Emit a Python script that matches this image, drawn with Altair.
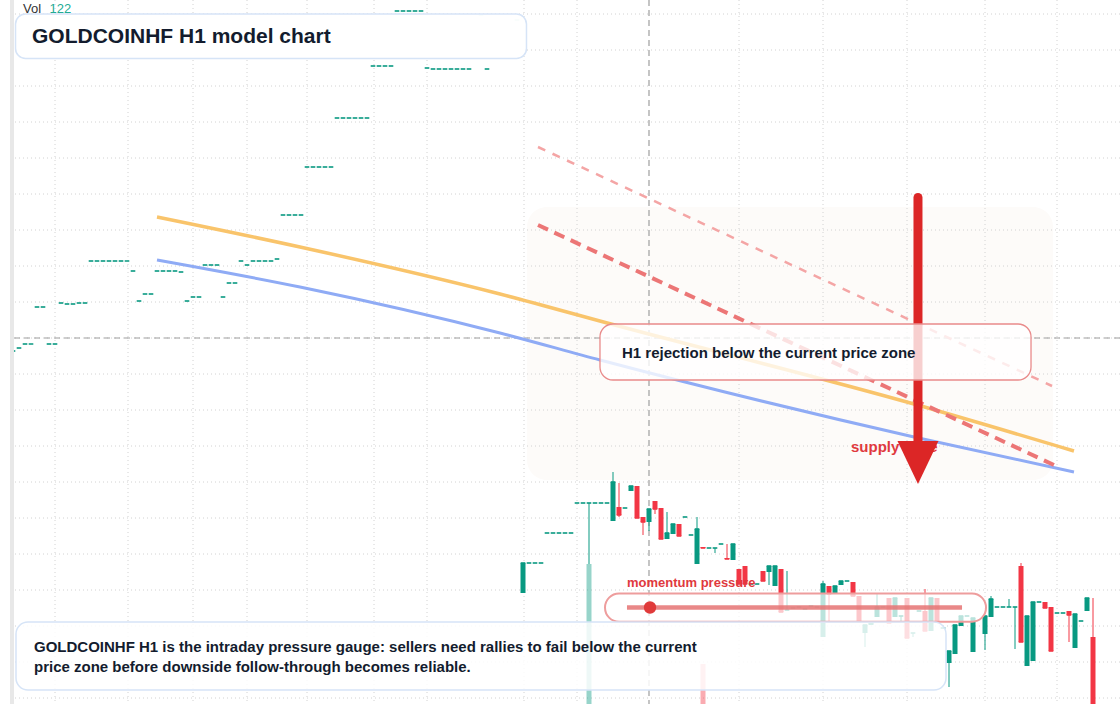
import altair as alt
import pandas as pd

# ---------------- data ----------------
# left part: flat (doji) hourly candles, one price each
flat_idx = [2, 3, 4, 5, 6, 7, 8, 9, 10, 11,
            12, 13, 14, 15, 16, 17, 18, 19, 20, 21,
            22, 23, 24, 25, 26, 27, 28, 29, 30, 31,
            32, 33, 34, 35, 36, 37, 38, 39, 40, 41,
            42, 43, 44, 45, 46, 47, 48, 49, 50, 51,
            52, 53, 54, 55, 56, 57, 58, 59, 60, 61,
            62, 63, 64, 65, 66, 67, 68, 69, 70, 71,
            72, 73, 74, 75, 76, 77, 78, 80, 81, 86]
flat_price = [2396.75, 2397.5, 2398.5, 2398.5, 2407.75, 2407.75, 2398.5, 2398.5, 2408.75, 2408.5,
              2408.5, 2408.75, 2408.75, 2419.25, 2419.25, 2419.25, 2419.25, 2419.25, 2419.25, 2419.25,
              2416.75, 2409.25, 2411, 2411, 2416.75, 2416.75, 2416.75, 2416.75, 2416.5, 2409.25,
              2410.25, 2410.25, 2418.25, 2418.25, 2418.25, 2410.25, 2413.75, 2413.75, 2419.25, 2418.25,
              2419.25, 2419.25, 2419.25, 2419.25, 2419.75, 2430.75, 2430.75, 2430.75, 2430.75, 2442.75,
              2442.75, 2442.75, 2442.75, 2442.75, 2455, 2455, 2455, 2455, 2455, 2455,
              2468, 2468, 2468, 2468, 2481.75, 2481.75, 2481.75, 2481.75, 2481.75, 2467.5,
              2467.25, 2467.25, 2467.25, 2467.25, 2467.25, 2467.25, 2467.25, 2480.75, 2467.25, 2479.5]

# right part: OHLC candles
r_idx = list(range(87, 163)) + list(range(164, 183))
r_open = [2336.25, 2343.75, 2343.75, 2343.75, 2351.25, 2351.25, 2351.25, 2351.25, 2351.25, 2358.75,
          2358.75, 2358.75, 2358.75, 2358.75, 2358.75, 2354.25, 2357.75, 2357.5, 2361.75, 2363,
          2355.25, 2354, 2359.25, 2357.5, 2349.75, 2351, 2353.5, 2355.25, 2350.75, 2343.5,
          2347.75, 2347.5, 2347.5, 2348.5, 2345, 2344.5, 2342.25, 2343, 2338.5, 2338.5,
          2341.75, 2341.5, 2338, 2342.25, 2332, 2332.5, 2332.75, 2332.25, 2333, 2332.75,
          2325.25, 2338, 2336, 2338.25, 2339.25, 2339, 2335.5, 2326.25, 2328.25, 2330.25,
          2332.75, 2335, 2330.25, 2330.5, 2335, 2326.25, 2331.75, 2331.75, 2326.75, 2335,
          2327.5, 2318.75, 2321, 2328, 2330.5, 2321.5,
          2326, 2330.25, 2332.75, 2332.75, 2332.75, 2332.75, 2343, 2318, 2319.25, 2334,
          2334, 2332.75, 2331.25, 2331.25, 2331.75, 2322.5, 2329.25, 2331.75, 2325.25]
r_high = [2343.75, 2343.75, 2343.75, 2343.75, 2351.25, 2351.25, 2351.25, 2351.25, 2351.25, 2358.75,
          2358.75, 2358.75, 2358.75, 2358.75, 2358.75, 2366.5, 2363.75, 2357.5, 2363, 2363,
          2355.25, 2357.25, 2359.25, 2357.5, 2356.5, 2353.5, 2353.5, 2355.25, 2350.75, 2355.25,
          2347.75, 2347.5, 2347.5, 2348.5, 2348.5, 2348.5, 2342.25, 2343, 2338.5, 2338.5,
          2341.75, 2343, 2343, 2342.25, 2341.75, 2332.5, 2332.75, 2332.25, 2333, 2332.75,
          2339.25, 2338, 2338, 2339.25, 2339.25, 2339, 2335.5, 2328.25, 2328.75, 2336.25,
          2332.75, 2335, 2335, 2330.5, 2335, 2326.25, 2331.75, 2337.25, 2335, 2335,
          2327.5, 2321.75, 2328.25, 2330.5, 2330.5, 2330,
          2330.5, 2335.5, 2332.75, 2332.75, 2334.75, 2332.75, 2343.75, 2330.5, 2334, 2334,
          2334, 2332.75, 2331.25, 2331.25, 2331.75, 2331, 2329.25, 2335, 2335]
r_low = [2336.25, 2343.75, 2343.75, 2343.75, 2351.25, 2351.25, 2351.25, 2351.25, 2351.25, 2358.75,
         2358.75, 2343.5, 2358.75, 2358.75, 2358.75, 2354.25, 2355.25, 2357.5, 2361.75, 2355,
         2350.75, 2351.75, 2356, 2349.75, 2349.75, 2351, 2350.5, 2355.25, 2350.75, 2343.5,
         2347.5, 2347.5, 2346.25, 2348.5, 2344.75, 2344.5, 2338.5, 2338.5, 2338.5, 2338.5,
         2339.25, 2338.25, 2338, 2331.5, 2332, 2332.5, 2332.75, 2332.25, 2333, 2332.75,
         2325.25, 2328.75, 2336, 2338.25, 2339.25, 2335.5, 2329, 2322.75, 2328.25, 2330.25,
         2332.75, 2328.75, 2330.25, 2329, 2325, 2325.25, 2331.75, 2326.75, 2326.75, 2329,
         2327.5, 2312.75, 2321, 2328, 2330.5, 2321.5,
         2322, 2330.25, 2332.75, 2332.75, 2332.75, 2322.25, 2324, 2318, 2319.25, 2334,
         2332.5, 2321.75, 2331.25, 2331.25, 2324, 2322.5, 2329.25, 2331.75, 2304.5]
r_close = [2343.75, 2343.75, 2343.75, 2343.75, 2351.25, 2351.25, 2351.25, 2351.25, 2351.25, 2358.75,
           2358.75, 2358.75, 2358.75, 2358.75, 2358.75, 2364, 2355.75, 2357.5, 2363, 2355,
           2354, 2357.25, 2357.25, 2349.75, 2351.25, 2353.5, 2350.5, 2355.25, 2350.75, 2352.25,
           2347.5, 2347.5, 2347.5, 2348.5, 2344.75, 2348.5, 2338.5, 2338.5, 2338.5, 2338.5,
           2339.25, 2343, 2343, 2331.5, 2332, 2332.5, 2332.75, 2332.25, 2333, 2332.75,
           2338.5, 2336, 2338, 2339.25, 2339.25, 2335.5, 2329, 2328.25, 2328.75, 2332.75,
           2332.75, 2328.75, 2335, 2330.5, 2325, 2326.25, 2331.75, 2326.75, 2335, 2329,
           2327.5, 2321.75, 2328.25, 2330.5, 2330.5, 2330,
           2330.5, 2334.75, 2332.75, 2332.75, 2332.75, 2332.75, 2324, 2330.5, 2334, 2334,
           2332.5, 2321.75, 2331.25, 2331.25, 2330.75, 2331, 2329.25, 2335, 2304.5]

vol_idx = [98, 117]
vol_val = [140, 40]
vol_dir = ["up", "down"]

grid_x = [9, 21.17, 32, 41, 51, 62.17, 71, 87.17, 96, 123, 137, 151, 164, 176]
grid_y = [2481, 2472, 2463, 2454, 2445, 2436, 2427, 2418, 2409, 2400,
          2391, 2382, 2373, 2364, 2355, 2346, 2337, 2328, 2319, 2310]
cross_x = [108]
cross_y = [2400]

orange_i = [26, 49.83, 83.17, 101.67, 152.17, 178.83]
orange_p = [2430.25, 2422.75, 2411, 2403.5, 2383.5, 2371.75]
blue_i = [26, 49.83, 83.17, 99.83, 152.17, 178.83]
blue_p = [2419.5, 2412.75, 2401.25, 2394.5, 2375.25, 2366.5]
resist_i = [89.5, 175.5]
resist_p = [2428.25, 2368.25]
upper_i = [89.5, 175.17]
upper_p = [2447.75, 2388]

# annotation geometry (index, price)
zone = {"x0": [87.67], "x1": [175.33], "y0": [2432.75], "y1": [2364.5]}
arrow_shaft = {"i": [152.83], "top": [2435.125], "bot": [2372]}
arrow_head = {"i": [152.83], "p": [2368.9]}
title_box = {"x0": [2.42], "x1": [87.58], "y0": [2481], "y1": [2469.9]}
note_box = {"x0": [2.5], "x1": [157.5], "y0": [2329], "y1": [2312]}
mom_box = {"x0": [100.67], "x1": [164.17], "y0": [2336.125], "y1": [2329.075]}
rej_box = {"x0": [99.83], "x1": [171.67], "y0": [2403.5], "y1": [2389.5]}
mom_line = {"i": [104.33, 160.17], "p": [2332.625, 2332.625]}
mom_dot = {"i": [108.17], "p": [2332.625]}

title_txt = {"i": [5.17], "p": [2473.75], "t": ["GOLDCOINHF H1 model chart"]}
note_txt = {"i": [5.5, 5.5], "p": [2321.5, 2316.5],
            "t": ["GOLDCOINHF H1 is the intraday pressure gauge: sellers need rallies to fail below the current",
                  "price zone before downside follow-through becomes reliable."]}
rej_txt = {"i": [103.5], "p": [2395], "t": ["H1 rejection below the current price zone"]}
mom_txt = {"i": [104.33], "p": [2337.75], "t": ["momentum pressure"]}
sup_txt = {"i": [141.67], "p": [2371.5], "t": ["supply zone"]}
vol_lbl = {"i": [3.67], "p": [2481.25], "t": ["Vol"]}
vol_num = {"i": [8.08], "p": [2481.25], "t": ["122"]}
left_band = {"i": [1.83]}
left_white = {"i": [0.67]}

# ---------------- chart ----------------
FONT = "Liberation Sans"
DARK = "#131c2e"
GREEN = "#089981"
RED = "#f23645"

xs = alt.Scale(domain=[-0.1667, 186.5], nice=False, zero=False, padding=0)
ys = alt.Scale(domain=[2308.5, 2484.5], nice=False, zero=False, padding=0)


def X(f):
    return alt.X(f, type="quantitative", scale=xs, axis=None)


def Y(f):
    return alt.Y(f, type="quantitative", scale=ys, axis=None)


left = pd.DataFrame({"i": flat_idx, "o": flat_price, "h": flat_price, "l": flat_price, "c": flat_price})
right = pd.DataFrame({"i": r_idx, "o": r_open, "h": r_high, "l": r_low, "c": r_close})
candles = pd.concat([left, right], ignore_index=True)
candles["dir"] = ["up" if c >= o else "down" for o, c in zip(candles["o"], candles["c"])]
vol = pd.DataFrame({"i": vol_idx, "v": vol_val, "dir": vol_dir})

color = alt.Color("dir:N", scale=alt.Scale(domain=["up", "down"], range=[GREEN, RED]), legend=None)


def D(d):
    return pd.DataFrame(d)


def box(d, **kw):
    return alt.Chart(D(d)).mark_rect(**kw).encode(x=X("x0"), x2="x1", y=Y("y0"), y2="y1")


def text(d, **kw):
    return alt.Chart(D(d)).mark_text(align="left", baseline="alphabetic", font=FONT, **kw).encode(
        x=X("i"), y=Y("p"), text="t:N")


layers = [
    box(zone, fill="#fdfbf9", cornerRadius=20),
    alt.Chart(D({"g": grid_x})).mark_rule(color="#d2d2d2", strokeWidth=1, strokeDash=[1, 3]).encode(x=X("g")),
    alt.Chart(D({"g": grid_y})).mark_rule(color="#d2d2d2", strokeWidth=1, strokeDash=[1, 3]).encode(y=Y("g")),
    alt.Chart(D({"g": cross_x})).mark_rule(color="#9e9e9e", strokeWidth=1.2, strokeDash=[6, 4]).encode(x=X("g")),
    alt.Chart(D({"g": cross_y})).mark_rule(color="#9e9e9e", strokeWidth=1.2, strokeDash=[6, 4]).encode(y=Y("g")),
    alt.Chart(vol).mark_bar(size=5, opacity=0.42).encode(
        x=X("i"), y=alt.Y("v:Q", scale=alt.Scale(domain=[0, 704], nice=False, padding=0), axis=None),
        color=color),
    alt.Chart(D({"i": orange_i, "p": orange_p})).mark_line(
        color="#f9c46b", strokeWidth=3.5, interpolate="monotone").encode(x=X("i"), y=Y("p")),
    alt.Chart(D({"i": blue_i, "p": blue_p})).mark_line(
        color="#8fabf5", strokeWidth=3, interpolate="monotone").encode(x=X("i"), y=Y("p")),
    alt.Chart(D({"i": upper_i, "p": upper_p})).mark_line(
        color="#f4a5a5", strokeWidth=2.5, strokeDash=[8, 8]).encode(x=X("i"), y=Y("p")),
    alt.Chart(D({"i": resist_i, "p": resist_p})).mark_line(
        color="#ec7676", strokeWidth=4, strokeDash=[11, 7]).encode(x=X("i"), y=Y("p")),
    alt.Chart(candles).mark_rule(strokeWidth=1, clip=True).encode(x=X("i"), y=Y("l"), y2="h", color=color),
    alt.Chart(candles).mark_bar(size=5, clip=True).encode(x=X("i"), y=Y("o"), y2="c", color=color),
    alt.Chart(candles).mark_tick(thickness=1.6, size=4.6, orient="horizontal", opacity=1, clip=True).encode(
        x=X("i"), y=Y("c"), color=color),
    text(sup_txt, fontSize=15, fontWeight="bold", color="#e0393e"),
    alt.Chart(D(arrow_shaft)).mark_rule(color="#dc2626", strokeWidth=9, strokeCap="round").encode(
        x=X("i"), y=Y("top"), y2="bot"),
    alt.Chart(D(arrow_head)).mark_point(shape="M-1,-1.05L1,-1.05L0,1.05Z", size=1681, filled=True,
                                        color="#dc2626", opacity=1).encode(x=X("i"), y=Y("p")),
    box(rej_box, fill="white", fillOpacity=0.78, stroke="#e98b8b", strokeWidth=1.3, cornerRadius=13),
    text(rej_txt, fontSize=15, fontWeight="bold", color=DARK),
    box(mom_box, fill="white", fillOpacity=0.72, stroke="#ee9d9d", strokeWidth=2, cornerRadius=14),
    alt.Chart(D(mom_line)).mark_line(color="#e57373", strokeWidth=4.5, opacity=0.85).encode(x=X("i"), y=Y("p")),
    alt.Chart(D(mom_dot)).mark_point(shape="circle", size=154, filled=True, color="#e03a3a", opacity=1).encode(
        x=X("i"), y=Y("p")),
    text(mom_txt, fontSize=13, fontWeight="bold", color="#e0393e"),
    box(note_box, fill="white", fillOpacity=0.84, stroke="#d6e4f7", strokeWidth=1.5, cornerRadius=12),
    text(note_txt, fontSize=15, fontWeight="bold", color=DARK),
    box(title_box, fill="white", fillOpacity=0.97, stroke="#d6e4f7", strokeWidth=1.5, cornerRadius=10),
    text(title_txt, fontSize=21, fontWeight="bold", color=DARK),
    text(vol_lbl, fontSize=13, color="#333333"),
    text(vol_num, fontSize=13, color="#22ab94"),
    alt.Chart(D(left_white)).mark_rule(color="white", strokeWidth=10).encode(x=X("i")),
    alt.Chart(D(left_band)).mark_rule(color="#e8e8e8", strokeWidth=4).encode(x=X("i")),
]

chart = (
    alt.layer(*layers)
    .resolve_scale(y="independent")
    .properties(width=1120, height=704, padding=0, background="white",
                autosize=alt.AutoSizeParams(type="none"))
    .configure_view(stroke=None)
)

chart.save("out.html", embed_options={"renderer": "svg", "actions": False})
